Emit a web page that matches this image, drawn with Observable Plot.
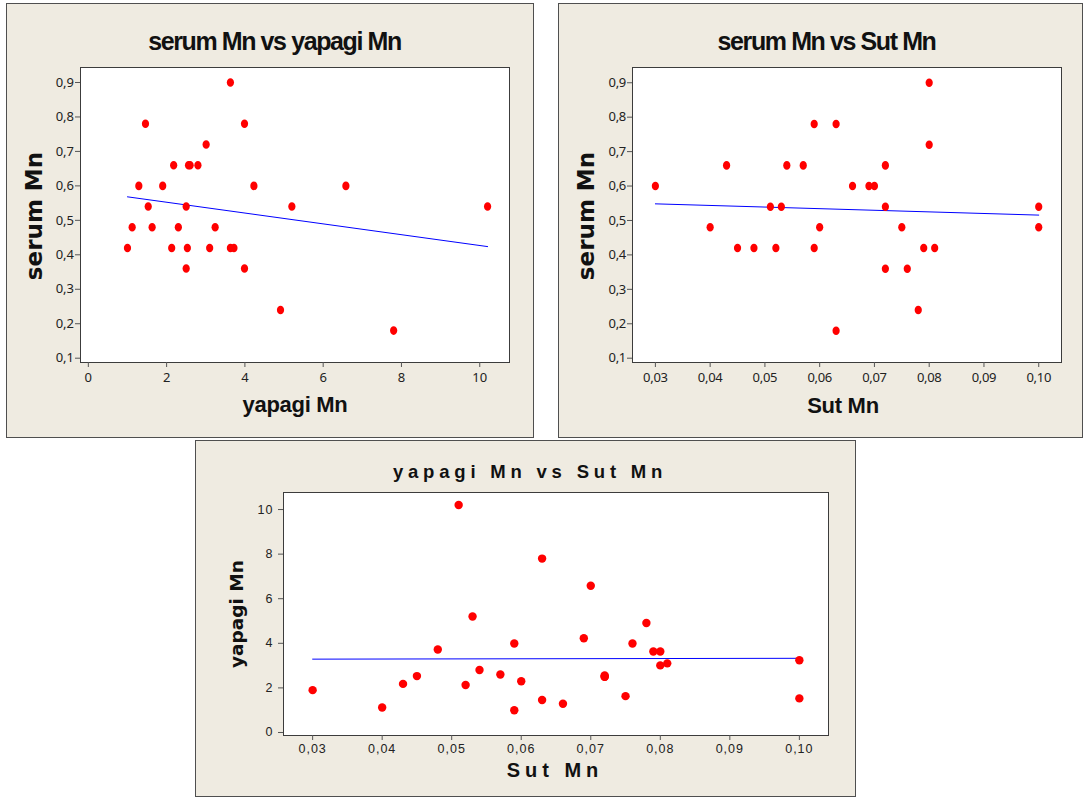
<!DOCTYPE html>
<html>
<head>
<meta charset="utf-8">
<script src="https://cdn.jsdelivr.net/npm/d3@7"></script>
<script src="https://cdn.jsdelivr.net/npm/@observablehq/plot@0.6"></script>
<style>
  html, body { margin: 0; padding: 0; background: #ffffff; }
  #page { position: relative; width: 1084px; height: 801px; overflow: hidden; }
  .panel { position: absolute; box-sizing: border-box; background: #efebe1; border: 1px solid #4f4f4f; }
  .chart { position: absolute; }
  .chart svg { display: block; overflow: visible; }
</style>
</head>
<body>
<div id="page"></div>
<script>
// Mn measurements for each sample: milk (Sut), wool (yapagi) and serum
const sut    = [0.030, 0.040, 0.043, 0.045, 0.048, 0.051, 0.052, 0.053, 0.054, 0.057,
                0.059, 0.059, 0.060, 0.063, 0.063, 0.066, 0.069, 0.070, 0.072, 0.072,
                0.072, 0.075, 0.076, 0.078, 0.079, 0.080, 0.080, 0.081, 0.100, 0.100];
const yapagi = [1.90, 1.12, 2.18, 2.53, 3.72, 10.20, 2.13, 5.20, 2.80, 2.60,
                3.99, 1.00, 2.30, 7.80, 1.46, 1.29, 4.23, 6.58, 2.56, 2.50,
                2.50, 1.63, 3.99, 4.91, 3.63, 3.63, 3.01, 3.10, 3.24, 1.53];
const serum  = [0.60, 0.48, 0.66, 0.42, 0.42, 0.54, 0.42, 0.54, 0.66, 0.66,
                0.78, 0.42, 0.48, 0.18, 0.78, 0.60, 0.60, 0.60, 0.66, 0.54,
                0.36, 0.48, 0.36, 0.24, 0.42, 0.90, 0.72, 0.42, 0.48, 0.54];

// Axis tick values
const serumTicks  = [0.1, 0.2, 0.3, 0.4, 0.5, 0.6, 0.7, 0.8, 0.9];
const yapagiTicks = [0, 2, 4, 6, 8, 10];
const sutTicks    = [0.03, 0.04, 0.05, 0.06, 0.07, 0.08, 0.09, 0.10];

const samples = sut.map((s, i) => ({sut: s, yapagi: yapagi[i], serum: serum[i]}));

// decimal comma formatting
const comma = digits => d => d.toFixed(digits).replace(".", ",");

// slightly tall elliptical marker
const ellipse = {
  draw(ctx, size) {
    const r = Math.sqrt(size / Math.PI);
    const rx = r * 0.88, ry = r * 1.04, k = 0.5523;
    ctx.moveTo(rx, 0);
    ctx.bezierCurveTo(rx, k * ry, k * rx, ry, 0, ry);
    ctx.bezierCurveTo(-k * rx, ry, -rx, k * ry, -rx, 0);
    ctx.bezierCurveTo(-rx, -k * ry, -k * rx, -ry, 0, -ry);
    ctx.bezierCurveTo(k * rx, -ry, rx, -k * ry, rx, 0);
    ctx.closePath();
  }
};

const page = document.getElementById("page");

function panel(cfg) {
  const box = document.createElement("div");
  box.className = "panel";
  Object.assign(box.style, {
    left: cfg.left + "px", top: cfg.top + "px",
    width: cfg.width + "px", height: cfg.height + "px"
  });
  page.appendChild(box);

  const chart = Plot.plot({
    width: cfg.width,
    height: cfg.height,
    marginLeft: cfg.margin[3],
    marginTop: cfg.margin[0],
    marginRight: cfg.margin[1],
    marginBottom: cfg.margin[2],
    style: {
      background: "transparent",
      fontFamily: cfg.tickFont,
      fontSize: cfg.tickSize + "px",
      letterSpacing: cfg.tickSpacing
    },
    x: {domain: cfg.xDomain},
    y: {domain: cfg.yDomain},
    marks: [
      Plot.frame({fill: "white", stroke: "#3c3c3c", strokeWidth: 1}),
      Plot.axisX({ticks: cfg.xTicks, tickFormat: cfg.xFormat, tickSize: 5,
                  tickPadding: cfg.xPad, stroke: "#555", fill: "#222", label: null}),
      Plot.axisY({ticks: cfg.yTicks, tickFormat: cfg.yFormat, tickSize: 5,
                  tickPadding: cfg.yPad, stroke: "#555", fill: "#222", label: null}),
      Plot.linearRegressionY(samples, {x: cfg.x, y: cfg.y, stroke: "#0000ff",
                  strokeWidth: 1, ci: 0}),
      Plot.dot(samples, {x: cfg.x, y: cfg.y, fill: "#ff0000", stroke: "none",
                  r: cfg.r, symbol: cfg.symbol})
    ]
  });

  const holder = document.createElement("div");
  holder.className = "chart";
  holder.style.left = cfg.left + "px";
  holder.style.top = cfg.top + "px";
  holder.appendChild(chart);
  page.appendChild(holder);

  const svg = d3.select(chart);
  const label = (t, opts) => svg.append("text")
    .attr("text-anchor", "middle")
    .attr("transform", opts.transform)
    .attr("fill", "#111")
    .style("font-family", opts.family)
    .style("font-weight", "bold")
    .style("font-size", opts.size + "px")
    .style("letter-spacing", opts.spacing || "0px")
    .text(t);

  label(cfg.title.text, {transform: `translate(${cfg.title.x},${cfg.title.y})`,
    family: cfg.title.family, size: cfg.title.size, spacing: cfg.title.spacing});
  label(cfg.xLabel.text, {transform: `translate(${cfg.xLabel.x},${cfg.xLabel.y})`,
    family: cfg.xLabel.family, size: cfg.xLabel.size, spacing: cfg.xLabel.spacing});
  label(cfg.yLabel.text, {transform: `translate(${cfg.yLabel.x},${cfg.yLabel.y}) rotate(-90)`,
    family: cfg.yLabel.family, size: cfg.yLabel.size, spacing: cfg.yLabel.spacing});
}

const narrow = "'Liberation Sans', Arial, sans-serif";
const wide = "'DejaVu Sans', Verdana, sans-serif";

// serum Mn against wool Mn
panel({
  left: 6, top: 3, width: 528, height: 435,
  margin: [64, 25, 76, 74],
  x: "yapagi", y: "serum",
  xDomain: [-0.2, 10.76], yDomain: [0.0875, 0.9435],
  xTicks: yapagiTicks, yTicks: serumTicks,
  xFormat: d => String(d), yFormat: comma(1),
  xPad: 5, yPad: 1.5,
  tickFont: "'Noto Sans', sans-serif", tickSize: 13, tickSpacing: "0px",
  r: 4.1, symbol: ellipse,
  title: {text: "serum Mn vs yapagi Mn", x: 268.5, y: 47, family: narrow, size: 25, spacing: "-1.4px"},
  xLabel: {text: "yapagi Mn", x: 289, y: 409, family: narrow, size: 22, spacing: "-0.3px"},
  yLabel: {text: "serum Mn", x: 36, y: 213, family: wide, size: 23}
});

// serum Mn against milk Mn
panel({
  left: 558, top: 3, width: 525, height: 435,
  margin: [64, 22, 76, 74],
  x: "sut", y: "serum",
  xDomain: [0.02582, 0.10416], yDomain: [0.0875, 0.9443],
  xTicks: sutTicks, yTicks: serumTicks,
  xFormat: comma(2), yFormat: comma(1),
  xPad: 5, yPad: 1.5,
  tickFont: "'Noto Sans', sans-serif", tickSize: 13, tickSpacing: "-0.3px",
  r: 4.1, symbol: ellipse,
  title: {text: "serum Mn vs Sut Mn", x: 268.5, y: 46.5, family: narrow, size: 25, spacing: "-1.4px"},
  xLabel: {text: "Sut Mn", x: 285, y: 410, family: narrow, size: 22, spacing: "-0.3px"},
  yLabel: {text: "serum Mn", x: 35.8, y: 213, family: wide, size: 23}
});

// wool Mn against milk Mn
panel({
  left: 195, top: 440, width: 661, height: 357,
  margin: [52, 28, 62, 88],
  x: "sut", y: "yapagi",
  xDomain: [0.02581, 0.10419], yDomain: [-0.135, 10.764],
  xTicks: sutTicks, yTicks: yapagiTicks,
  xFormat: comma(2), yFormat: d => String(d),
  xPad: 4, yPad: 5,
  tickFont: narrow, tickSize: 12.5, tickSpacing: "1px",
  r: 4.2, symbol: "circle",
  title: {text: "yapagi Mn vs Sut Mn", x: 335, y: 38, family: narrow, size: 18.5, spacing: "4.8px"},
  xLabel: {text: "Sut Mn", x: 360, y: 337, family: narrow, size: 20, spacing: "5px"},
  yLabel: {text: "yapagi Mn", x: 48, y: 174, family: wide, size: 18.5}
});
</script>
</body>
</html>
